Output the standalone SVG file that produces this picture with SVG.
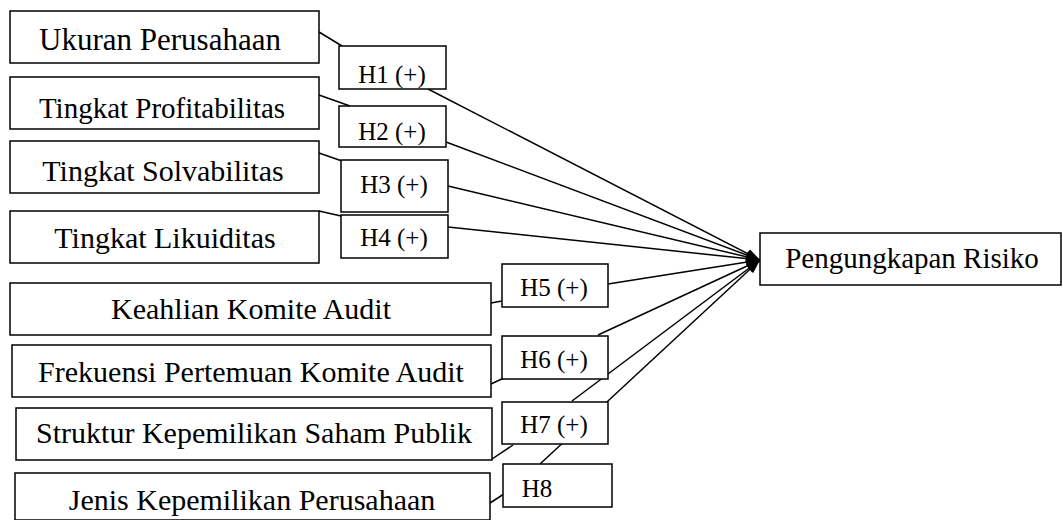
<svg xmlns="http://www.w3.org/2000/svg" width="1063" height="520" viewBox="0 0 1063 520">
<style>
rect{fill:#fff;stroke:#000;stroke-width:1.5}
.n{font-family:"Liberation Serif","Times New Roman",serif;font-size:30px;fill:#000;text-anchor:middle}
.h{font-family:"Liberation Serif","Times New Roman",serif;font-size:25px;fill:#000;text-anchor:middle}
.c line{stroke:#000;stroke-width:1.5}
.a{marker-end:url(#ah)}
</style>
<defs>
<marker id="ah" viewBox="0 0 14 10" refX="14" refY="5" markerWidth="14" markerHeight="10" markerUnits="userSpaceOnUse" orient="auto">
<path d="M0,0 L14,5 L0,10 Z" fill="#000"/>
</marker>
</defs>
<g class="c" id="connectors">
<line x1="319" y1="32" x2="342" y2="46"/>
<line x1="319" y1="95" x2="350" y2="106"/>
<line x1="319" y1="153" x2="342" y2="161"/>
<line x1="319" y1="211" x2="341" y2="216"/>
<line x1="491" y1="303" x2="502" y2="301"/>
<line x1="491" y1="384" x2="506" y2="377"/>
<line x1="492" y1="459" x2="513" y2="445"/>
<line x1="490" y1="503" x2="507" y2="492"/>
<line class="a" x1="428" y1="89" x2="760" y2="260"/>
<line class="a" x1="446" y1="142" x2="760" y2="260"/>
<line class="a" x1="448" y1="186" x2="760" y2="260"/>
<line class="a" x1="448" y1="227" x2="760" y2="260"/>
<line class="a" x1="608" y1="284" x2="760" y2="260"/>
<line class="a" x1="598" y1="335" x2="760" y2="260"/>
<line class="a" x1="572" y1="401" x2="760" y2="260"/>
<line class="a" x1="540" y1="464" x2="760" y2="260"/>
</g>
<g id="ukuran"><rect x="10" y="11" width="309" height="52"/><text class="n" x="160" y="50" style="font-size:31px">Ukuran Perusahaan</text></g>
<g id="profitabilitas"><rect x="10" y="77" width="309" height="52"/><text class="n" x="162" y="118" style="font-size:29px">Tingkat Profitabilitas</text></g>
<g id="solvabilitas"><rect x="10" y="141" width="309" height="52"/><text class="n" x="163" y="181">Tingkat Solvabilitas</text></g>
<g id="likuiditas"><rect x="10" y="211" width="309" height="52"/><text class="n" x="165" y="248">Tingkat Likuiditas</text></g>
<g id="keahlian"><rect x="10" y="283" width="481" height="52"/><text class="n" x="251" y="319">Keahlian Komite Audit</text></g>
<g id="frekuensi"><rect x="12" y="345" width="479" height="52"/><text class="n" x="251" y="382">Frekuensi Pertemuan Komite Audit</text></g>
<g id="struktur"><rect x="16" y="408" width="476" height="52"/><text class="n" x="254" y="443">Struktur Kepemilikan Saham Publik</text></g>
<g id="jenis"><rect x="15" y="473" width="475" height="47"/><text class="n" x="252" y="510">Jenis Kepemilikan Perusahaan</text></g>
<g id="pengungkapan"><rect x="760" y="233" width="301" height="52"/><text class="n" x="912" y="268" style="font-size:29px">Pengungkapan Risiko</text></g>
<g id="h1"><rect x="339" y="46" width="107" height="43"/><text class="h" x="392" y="83">H1 (+)</text></g>
<g id="h2"><rect x="339" y="106" width="107" height="41"/><text class="h" x="392" y="140">H2 (+)</text></g>
<g id="h3"><rect x="341" y="160" width="107" height="52"/><text class="h" x="394" y="193">H3 (+)</text></g>
<g id="h4"><rect x="341" y="215" width="107" height="43"/><text class="h" x="394" y="246">H4 (+)</text></g>
<g id="h5"><rect x="502" y="264" width="106" height="43"/><text class="h" x="554" y="296">H5 (+)</text></g>
<g id="h6"><rect x="502" y="336" width="106" height="43"/><text class="h" x="554" y="368">H6 (+)</text></g>
<g id="h7"><rect x="502" y="402" width="106" height="42"/><text class="h" x="554" y="433">H7 (+)</text></g>
<g id="h8"><rect x="503" y="464" width="109" height="43"/><text class="h" x="537" y="497">H8</text></g>
</svg>
